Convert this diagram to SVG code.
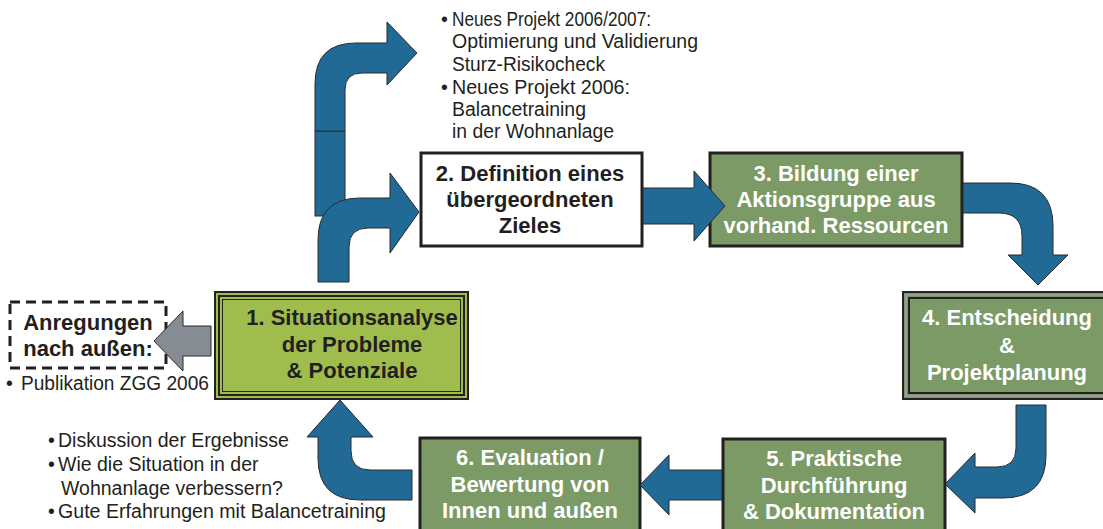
<svg xmlns="http://www.w3.org/2000/svg" width="1103" height="529" viewBox="0 0 1103 529">
  <defs>
    <style>
      .arrow { fill: #216a96; stroke: #2a2a2a; stroke-width: 1; stroke-linejoin: miter; }
      .grey-arrow { fill: #858c94; stroke: #2a2a2a; stroke-width: 1; }
      .box-title { font-family: "Liberation Sans", Arial, sans-serif; font-weight: bold; font-size: 22px; text-anchor: middle; }
      .dark { fill: #231f20; }
      .light { fill: #ffffff; }
      .note { font-family: "Liberation Sans", Arial, sans-serif; font-size: 19.5px; fill: #231f20; }
      .green { fill: #7b9a66; }
      .lime { fill: #9fbd4d; }
    </style>
  </defs>
  <rect width="1103" height="529" fill="#ffffff"/>

  <!-- 1. situation analysis (triple frame) -->
  <g id="node-1">
    <rect x="215" y="292" width="253" height="107" class="lime" stroke="#222" stroke-width="2"/>
    <rect x="219" y="296" width="245" height="99" fill="none" stroke="#222" stroke-width="2"/>
    <rect x="222.5" y="299.5" width="238" height="92" fill="none" stroke="#222" stroke-width="1"/>
    <text class="box-title dark" x="352" y="325">1. Situationsanalyse</text>
    <text class="box-title dark" x="352" y="352">der Probleme</text>
    <text class="box-title dark" x="352" y="378">&amp; Potenziale</text>
  </g>

  <!-- 2. goal definition -->
  <g id="node-2">
    <rect x="421" y="153" width="221" height="93" fill="#ffffff" stroke="#231f20" stroke-width="3"/>
    <text class="box-title dark" x="530" y="181">2. Definition eines</text>
    <text class="box-title dark" x="530" y="207">übergeordneten</text>
    <text class="box-title dark" x="530" y="233">Zieles</text>
  </g>

  <!-- 3. action group -->
  <g id="node-3">
    <rect x="710" y="153" width="252" height="93" class="green" stroke="#231f20" stroke-width="3"/>
    <text class="box-title light" x="836" y="181">3. Bildung einer</text>
    <text class="box-title light" x="836" y="207">Aktionsgruppe aus</text>
    <text class="box-title light" x="836" y="233">vorhand. Ressourcen</text>
  </g>

  <!-- 4. decision and planning (triple frame) -->
  <g id="node-4">
    <rect x="903" y="292" width="210" height="107" class="green" stroke="#222" stroke-width="2"/>
    <rect x="906" y="295" width="204" height="101" fill="none" stroke="#9a9a9a" stroke-width="2"/>
    <rect x="909" y="298" width="198" height="95" fill="none" stroke="#222" stroke-width="2"/>
    <text class="box-title light" x="1007" y="325">4. Entscheidung</text>
    <text class="box-title light" x="1007" y="353">&amp;</text>
    <text class="box-title light" x="1007" y="380">Projektplanung</text>
  </g>

  <!-- 5. implementation -->
  <g id="node-5">
    <rect x="723" y="439" width="222" height="95" class="green" stroke="#231f20" stroke-width="3"/>
    <text class="box-title light" x="834" y="466">5. Praktische</text>
    <text class="box-title light" x="834" y="493">Durchführung</text>
    <text class="box-title light" x="834" y="519">&amp; Dokumentation</text>
  </g>

  <!-- 6. evaluation -->
  <g id="node-6">
    <rect x="420" y="438" width="220" height="96" class="green" stroke="#231f20" stroke-width="3"/>
    <text class="box-title light" x="530" y="465">6. Evaluation /</text>
    <text class="box-title light" x="530" y="492">Bewertung von</text>
    <text class="box-title light" x="530" y="518">Innen und außen</text>
  </g>

  <!-- outward suggestions -->
  <g id="node-outreach">
    <rect x="10" y="302" width="156" height="66" fill="none" stroke="#231f20" stroke-width="3" stroke-dasharray="10 6"/>
    <text class="box-title dark" x="88" y="330">Anregungen</text>
    <text class="box-title dark" x="88" y="356">nach außen:</text>
    <text class="note" x="6" y="390">•</text>
    <text class="note" x="21" y="390" textLength="188" lengthAdjust="spacingAndGlyphs">Publikation ZGG 2006</text>
  </g>

  <!-- follow-up projects -->
  <g id="note-projects">
    <text class="note" x="441" y="26">•</text>
    <text class="note" x="452" y="26" textLength="199" lengthAdjust="spacingAndGlyphs">Neues Projekt 2006/2007:</text>
    <text class="note" x="452" y="48" textLength="246" lengthAdjust="spacingAndGlyphs">Optimierung und Validierung</text>
    <text class="note" x="452" y="71" textLength="153" lengthAdjust="spacingAndGlyphs">Sturz-Risikocheck</text>
    <text class="note" x="441" y="94">•</text>
    <text class="note" x="452" y="94" textLength="178" lengthAdjust="spacingAndGlyphs">Neues Projekt 2006:</text>
    <text class="note" x="452" y="116" textLength="134" lengthAdjust="spacingAndGlyphs">Balancetraining</text>
    <text class="note" x="452" y="138" textLength="162" lengthAdjust="spacingAndGlyphs">in der Wohnanlage</text>
  </g>

  <!-- evaluation results -->
  <g id="note-results">
    <text class="note" x="48" y="447">•</text>
    <text class="note" x="58" y="447">Diskussion der Ergebnisse</text>
    <text class="note" x="48" y="471">•</text>
    <text class="note" x="58" y="471">Wie die Situation in der</text>
    <text class="note" x="61" y="495">Wohnanlage verbessern?</text>
    <text class="note" x="48" y="518">•</text>
    <text class="note" x="58" y="518" textLength="328" lengthAdjust="spacingAndGlyphs">Gute Erfahrungen mit Balancetraining</text>
  </g>

  <!-- connectors -->
  <g id="connectors">
    <!-- long bent arrow towards the follow-up projects -->
    <rect class="arrow" x="315" y="131" width="30" height="85"/>
    <path class="arrow" d="M315,131 L315,84 Q315,43 356,43 L387,43 L387,22 L417,53 L387,85 L387,73 L362,73 Q345,73 345,90 L345,131 Z"/>
    <!-- 1 -> 2 -->
    <path class="arrow" d="M318,282 L318,240 Q318,198 360,198 L390,198 L390,173 L419,212 L390,253 L390,228 L368,228 Q349,228 349,247 L349,282 Z"/>
    <!-- 2 -> 3 -->
    <path class="arrow" d="M643,188 L694,188 L694,171 L725,206 L694,241 L694,224 L643,224 Z"/>
    <!-- 3 -> 4 -->
    <path class="arrow" d="M963,183 L1010,183 Q1053,183 1053,226 L1053,255 L1068,255 L1038,285 L1008,255 L1022,255 L1022,236 Q1022,213 999,213 L963,213 Z"/>
    <!-- 4 -> 5 -->
    <path class="arrow" d="M1016,405 L1046,405 L1046,455 Q1046,498 1003,498 L975,498 L975,513 L945,484 L975,453 L975,467 L997,467 Q1016,467 1016,448 Z"/>
    <!-- 5 -> 6 -->
    <path class="arrow" d="M722,470 L669,470 L669,455 L640,485 L669,515 L669,500 L722,500 Z"/>
    <!-- 6 -> 1 -->
    <path class="arrow" d="M412,470 L370,470 Q351,470 351,451 L351,437 L373,437 L340,400 L307,437 L318,437 L318,458 Q318,500 360,500 L412,500 Z"/>
    <!-- 1 -> outward suggestions -->
    <path class="grey-arrow" d="M211,326 L183,326 L183,311 L154,341 L183,371 L183,356 L211,356 Z"/>
  </g>
</svg>
